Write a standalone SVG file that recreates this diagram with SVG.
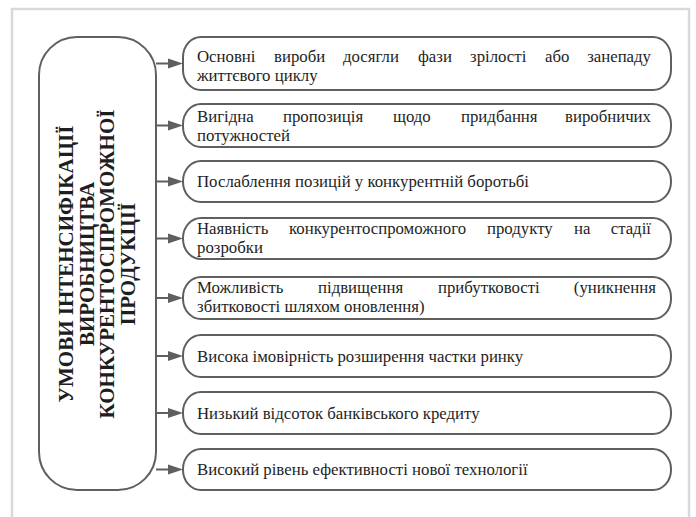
<svg xmlns="http://www.w3.org/2000/svg" width="696" height="517" viewBox="0 0 696 517">
<style>
.frame{fill:none;stroke:#d9d9d9;stroke-width:2.5}
.box{fill:#ffffff;stroke:#5f5f5f;stroke-width:2}
.t{font-family:"Liberation Serif","Times New Roman",serif;font-size:16.8px;fill:#1e1e1e}
.v{font-family:"Liberation Serif","Times New Roman",serif;font-size:21px;font-weight:bold;fill:#1e1e1e;text-anchor:middle}
.c{stroke:#5f5f5f;stroke-width:2;fill:none}
.ah{fill:#5f5f5f}
</style>
<rect width="696" height="517" fill="#ffffff"/>
<rect class="frame" x="12" y="9" width="677" height="530"/>
<g id="main">
<rect class="box" x="39" y="37" width="117" height="453" rx="38" ry="38"/>
<g transform="translate(0,264) rotate(-90)">
<text class="v" x="0" y="73">УМОВИ ІНТЕНСИФІКАЦІЇ</text>
<text class="v" x="0" y="93.5">ВИРОБНИЦТВА</text>
<text class="v" x="0" y="114">КОНКУРЕНТОСПРОМОЖНОЇ</text>
<text class="v" x="0" y="134.5">ПРОДУКЦІЇ</text>
</g>
</g>
<g id="connectors">
<path class="c" d="M156 63.5H170M156 125.5H170M156 181.5H170M156 238.5H170M156 298H170M156 356H170M156 413H170M156 469.5H170"/>
<path class="ah" d="M183 63.5L168 58.5V68.5Z"/>
<path class="ah" d="M183 125.5L168 120.5V130.5Z"/>
<path class="ah" d="M183 181.5L168 176.5V186.5Z"/>
<path class="ah" d="M183 238.5L168 233.5V243.5Z"/>
<path class="ah" d="M183 298L168 293V303Z"/>
<path class="ah" d="M183 356L168 351V361Z"/>
<path class="ah" d="M183 413L168 408V418Z"/>
<path class="ah" d="M183 469.5L168 464.5V474.5Z"/>
</g>
<g id="n1">
<rect class="box" x="183" y="37" width="488" height="53" rx="18" ry="20"/>
<text class="t" y="62"><tspan x="197">Основні</tspan><tspan x="274">вироби</tspan><tspan x="343">досягли</tspan><tspan x="418">фази</tspan><tspan x="470">зрілості</tspan><tspan x="545">або</tspan><tspan x="651" text-anchor="end">занепаду</tspan></text>
<text class="t" x="197" y="80.5">життєвого циклу</text>
</g>
<g id="n2">
<rect class="box" x="183" y="104" width="488" height="43" rx="18" ry="20"/>
<text class="t" y="122"><tspan x="197">Вигідна</tspan><tspan x="283">пропозиція</tspan><tspan x="393">щодо</tspan><tspan x="461">придбання</tspan><tspan x="651" text-anchor="end">виробничих</tspan></text>
<text class="t" x="197" y="140.5">потужностей</text>
</g>
<g id="n3">
<rect class="box" x="183" y="161" width="488" height="41" rx="18" ry="20"/>
<text class="t" x="197" y="187">Послаблення позицій у конкурентній боротьбі</text>
</g>
<g id="n4">
<rect class="box" x="183" y="218" width="488" height="41" rx="18" ry="20"/>
<text class="t" y="234"><tspan x="197">Наявність</tspan><tspan x="289">конкурентоспроможного</tspan><tspan x="487">продукту</tspan><tspan x="574">на</tspan><tspan x="651" text-anchor="end">стадії</tspan></text>
<text class="t" x="197" y="252.5">розробки</text>
</g>
<g id="n5">
<rect class="box" x="183" y="277" width="488" height="42" rx="18" ry="20"/>
<text class="t" y="293"><tspan x="197">Можливість</tspan><tspan x="318">підвищення</tspan><tspan x="438">прибутковості</tspan><tspan x="656" text-anchor="end">(уникнення</tspan></text>
<text class="t" x="197" y="311.5">збитковості шляхом оновлення)</text>
</g>
<g id="n6">
<rect class="box" x="183" y="335" width="488" height="42" rx="18" ry="20"/>
<text class="t" x="197" y="361.5">Висока імовірність розширення частки ринку</text>
</g>
<g id="n7">
<rect class="box" x="183" y="392" width="488" height="42" rx="18" ry="20"/>
<text class="t" x="197" y="418.5">Низький відсоток банківського кредиту</text>
</g>
<g id="n8">
<rect class="box" x="183" y="449" width="488" height="41" rx="18" ry="20"/>
<text class="t" x="197" y="475">Високий рівень ефективності нової технології</text>
</g>
</svg>
